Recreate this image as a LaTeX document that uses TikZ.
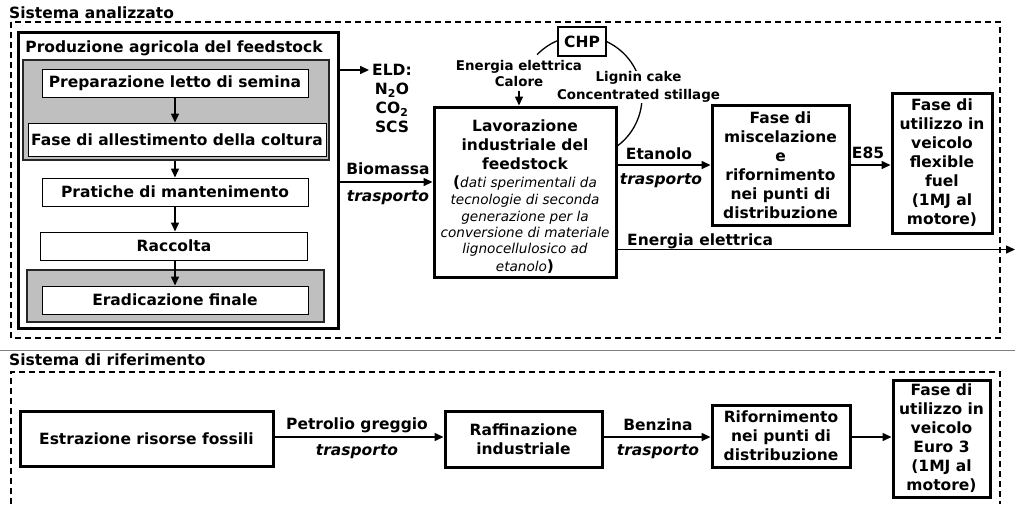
\documentclass[tikz,border=0pt]{standalone}
\usepackage{fontspec}
\setmainfont{DejaVu Sans}
\usetikzlibrary{arrows.meta}
\newcommand\nt[1]{{\fontsize{13.6}{17}\selectfont\mdseries\itshape #1}}
\tikzset{
  every node/.style={font=\fontsize{15.5}{19}\selectfont\bfseries, inner sep=0pt},
  bigbox/.style={draw, line width=3pt, fill=white, align=center},
  thinbox/.style={draw, line width=1pt, fill=white},
  graybox/.style={draw=black!85, line width=1.2pt, fill=black!25},
  flow/.style={line width=1.5pt, -{Triangle[length=9pt,width=8pt]}},
  sysbox/.style={line width=1.1pt, dash pattern=on 6pt off 4pt},
  smalllbl/.style={font=\fontsize{13.4}{15.5}\selectfont\bfseries, align=center},
  transp/.style={font=\fontsize{15.5}{19}\selectfont\bfseries\itshape},
}
\begin{document}
\begin{tikzpicture}[x=1pt,y=1pt]
\useasboundingbox (0,0) rectangle (1015,-504);

% ---- system boundaries ----
\draw[sysbox] (11,-22) rectangle (1000,-338);
\node[anchor=base west] (sysA) at (9,-18.5) {Sistema analizzato};
\draw[gray, line width=1.5pt] (0,-350.5) -- (1015,-350.5);
\node[anchor=base west] (sysB) at (9,-365) {Sistema di riferimento};
\draw[sysbox] (11,-504) -- (11,-372) -- (1000,-372) -- (1000,-504);

% ---- agricultural production of the feedstock ----
\node[bigbox, minimum width=320, minimum height=296] (prod) at (178,-180) {};
\node (prodtitle) at (174,-48) {Produzione agricola del feedstock};
\node[graybox, minimum width=306, minimum height=100] (gray1) at (176,-110) {};
\node[thinbox, minimum width=266, minimum height=28] (prep) at (175,-83) {Preparazione letto di semina};
\node[thinbox, minimum width=298, minimum height=33] (allest) at (177,-139.5) {Fase di allestimento della coltura};
\node[thinbox, minimum width=266, minimum height=28] (prat) at (175,-192) {Pratiche di mantenimento};
\node[thinbox, minimum width=267, minimum height=28] (racc) at (174,-246) {Raccolta};
\node[graybox, minimum width=297, minimum height=52] (gray2) at (175.5,-296) {};
\node[thinbox, minimum width=266, minimum height=28] (erad) at (175,-300) {Eradicazione finale};

\draw[flow] (prep.south) -- (prep.south |- allest.north);
\draw[flow] (prep.south |- gray1.south) -- (prep.south |- prat.north);
\draw[flow] (prep.south |- prat.south) -- (prep.south |- racc.north);
\draw[flow] (prep.south |- racc.south) -- (prep.south |- erad.north);

% ---- field emissions ----
\node[align=center, anchor=north, font=\fontsize{15.5}{19}\selectfont\bfseries] (eld) at (392,-64)
  {ELD:\\N\textsubscript{2}O\\CO\textsubscript{2}\\SCS};
\draw[flow, shorten >=3pt] (prod.east |- 0,-70) -- (eld.west |- 0,-70);

% ---- industrial processing ----
\coordinate (loop) at (581,-97);
\draw[line width=1.3pt] ([shift={(136:61)}]loop) arc[start angle=136, end angle=-54, radius=61];
\node[draw, line width=1.4pt, fill=white, minimum width=48, minimum height=29] (chp) at (582,-41.5) {CHP};
\node[smalllbl, font=\fontsize{13.4}{17.7}\selectfont\bfseries, fill=white, inner sep=1pt] (lignin) at (638.5,-87)
  {Lignin cake\\Concentrated stillage};
\node[smalllbl] (enlab) at (519,-73.5) {Energia elettrica\\Calore};

\node[bigbox, minimum width=182, minimum height=170] (lav) at (525,-192) {};
\node[align=center] (lavtext) at (525,-197)
  {Lavorazione\\industriale del\\feedstock\\[-1pt]
   (\nt{dati sperimentali da}\\[-2pt]
   \nt{tecnologie di seconda}\\[-2pt]
   \nt{generazione per la}\\[-3pt]
   \nt{conversione di materiale}\\[-3pt]
   \nt{lignocellulosico ad}\\[-1pt]
   \nt{etanolo})};
\draw[flow] (enlab.south) ++(0,-4) -- (enlab.south |- lav.north);

\draw[flow] (prod.east |- 0,-182) -- (lav.west |- 0,-182);
\node (biom) at (388,-169) {Biomassa};
\node[transp] (tr1) at (388,-198) {trasporto};

% ---- blending and use ----
\node[bigbox, minimum width=137, minimum height=120] (misc) at (780.5,-165)
  {Fase di\\miscelazione\\e\\rifornimento\\nei punti di\\distribuzione};
\node[bigbox, minimum width=100, minimum height=140] (flex) at (942,-163)
  {Fase di\\utilizzo in\\veicolo\\flexible\\fuel\\(1MJ al\\motore)};
\draw[flow] (lav.east |- 0,-165) -- (misc.west |- 0,-165);
\node (etan) at (659,-154) {Etanolo};
\node[transp] (tr2) at (661,-181) {trasporto};
\draw[flow] (misc.east |- 0,-165) -- (flex.west |- 0,-165);
\node (e85) at (868,-153) {E85};

\coordinate (gridout) at (1015,-249.5);
\draw[flow] (lav.east |- gridout) -- (gridout);
\node[anchor=base west] (enout) at (627,-245.5) {Energia elettrica};

% ---- reference system ----
\node[bigbox, minimum width=253, minimum height=55] (estr) at (146.5,-438.5) {Estrazione risorse fossili};
\node[bigbox, minimum width=157, minimum height=56] (raff) at (523.5,-439) {Raffinazione\\industriale};
\node[bigbox, minimum width=138, minimum height=62] (rif) at (781,-436) {Rifornimento\\nei punti di\\distribuzione};
\node[bigbox, minimum width=97, minimum height=117] (euro) at (941.5,-438.5)
  {Fase di\\utilizzo in\\veicolo\\Euro 3\\(1MJ al\\motore)};

\draw[flow] (estr.east |- 0,-437) -- (raff.west |- 0,-437);
\node (petr) at (357,-425) {Petrolio greggio};
\node[transp] (tr3) at (357,-452) {trasporto};
\draw[flow] (raff.east |- 0,-437) -- (rif.west |- 0,-437);
\node (benz) at (658,-425) {Benzina};
\node[transp] (tr4) at (658,-452) {trasporto};
\draw[flow] (rif.east |- 0,-437) -- (euro.west |- 0,-437);
\end{tikzpicture}
\end{document}
